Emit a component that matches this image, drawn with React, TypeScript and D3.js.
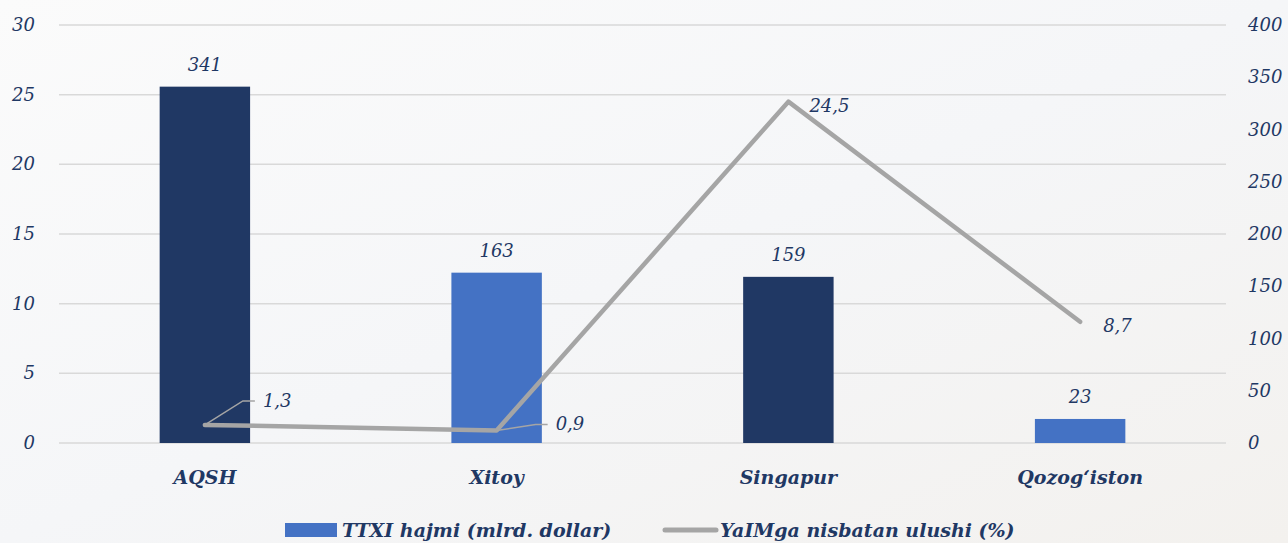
import React from "react";
import * as d3 from "d3";

const categories = ["AQSH", "Xitoy", "Singapur", "Qozog‘iston"];
const fdiVolume = [341, 163, 159, 23];
const gdpShare = [1.3, 0.9, 24.5, 8.7];
const gdpShareLabels = ["1,3", "0,9", "24,5", "8,7"];
const leftTicks = [0, 5, 10, 15, 20, 25, 30];
const rightTicks = [0, 50, 100, 150, 200, 250, 300, 350, 400];
const barColors = ["#203864", "#4472C4", "#203864", "#4472C4"];
const legendLabels = ["TTXI hajmi (mlrd. dollar)", "YaIMga nisbatan ulushi (%)"];

const W = 1288, H = 543;
const TEXT = "#1F3864";
const FONT = "'DejaVu Serif', 'Liberation Serif', serif";

export default function App() {
  const x = d3.scaleBand<string>().domain(categories).range([59, 1226]).paddingInner(0.69).paddingOuter(0.345);
  const yL = d3.scaleLinear().domain([0, 30]).range([443, 25]);
  const yR = d3.scaleLinear().domain([0, 400]).range([443, 25]);
  const cx = (c: string) => (x(c) as number) + x.bandwidth() / 2;
  const line = d3.line<number>().x((_, i) => cx(categories[i])).y((v) => yL(v));

  const lineLabelOffsets = [
    { dx: 58, dy: -24, leader: true },
    { dx: 59, dy: -6, leader: true },
    { dx: 21, dy: 4, leader: false },
    { dx: 23, dy: 4, leader: false },
  ];

  return (
    <svg width={W} height={H} style={{ position: "absolute", left: 0, top: 0 }} fontFamily={FONT}>
      <defs>
        <linearGradient id="bg" x1="0" y1="0" x2="1" y2="1">
          <stop offset="0" stopColor="#fbfbfb" />
          <stop offset="0.5" stopColor="#f5f6f8" />
          <stop offset="1" stopColor="#f3f1ee" />
        </linearGradient>
      </defs>
      <rect width={W} height={H} fill="url(#bg)" />
      {leftTicks.map((t) => (
        <g key={"l" + t}>
          <line x1={59} x2={1226} y1={yL(t)} y2={yL(t)} stroke="#d9d9d9" strokeWidth={1.5} />
          <text x={35} y={yL(t) + 6} textAnchor="end" fontSize={18} fontStyle="italic" fill={TEXT}>{t}</text>
        </g>
      ))}
      {rightTicks.map((t) => (
        <text key={"r" + t} x={1248} y={yR(t) + 6} fontSize={18} fontStyle="italic" fill={TEXT}>{t}</text>
      ))}
      {categories.map((c, i) => (
        <g key={c}>
          <rect x={x(c)} y={yR(fdiVolume[i])} width={x.bandwidth()} height={yR(0) - yR(fdiVolume[i])} fill={barColors[i]} />
          <text x={cx(c)} y={yR(fdiVolume[i]) - 16} textAnchor="middle" fontSize={18} fontStyle="italic" fill={TEXT}>{fdiVolume[i]}</text>
          <text x={cx(c)} y={484} textAnchor="middle" fontSize={19} fontStyle="italic" fontWeight="bold" fill={TEXT}>{c}</text>
        </g>
      ))}
      <path d={line(gdpShare) ?? ""} fill="none" stroke="#A5A5A5" strokeWidth={4.5} strokeLinejoin="round" strokeLinecap="round" />
      {categories.map((c, i) => {
        const px = cx(c), py = yL(gdpShare[i]);
        const o = lineLabelOffsets[i];
        return (
          <g key={"ll" + c}>
            {o.leader && (
              <polyline points={`${px},${py} ${px + o.dx - 20},${py + o.dy} ${px + o.dx - 8},${py + o.dy}`} fill="none" stroke="#A5A5A5" strokeWidth={1.5} />
            )}
            <text x={px + o.dx} y={py + o.dy + 6} fontSize={18} fontStyle="italic" fill={TEXT}>{gdpShareLabels[i]}</text>
          </g>
        );
      })}
      <rect x={285} y={523} width={52} height={14} fill="#4472C4" />
      <text x={342} y={537} fontSize={19} fontStyle="italic" fontWeight="bold" fill={TEXT}>{legendLabels[0]}</text>
      <line x1={665} x2={716} y1={530} y2={530} stroke="#A5A5A5" strokeWidth={5} strokeLinecap="round" />
      <text x={720} y={537} fontSize={19} fontStyle="italic" fontWeight="bold" fill={TEXT}>{legendLabels[1]}</text>
    </svg>
  );
}
